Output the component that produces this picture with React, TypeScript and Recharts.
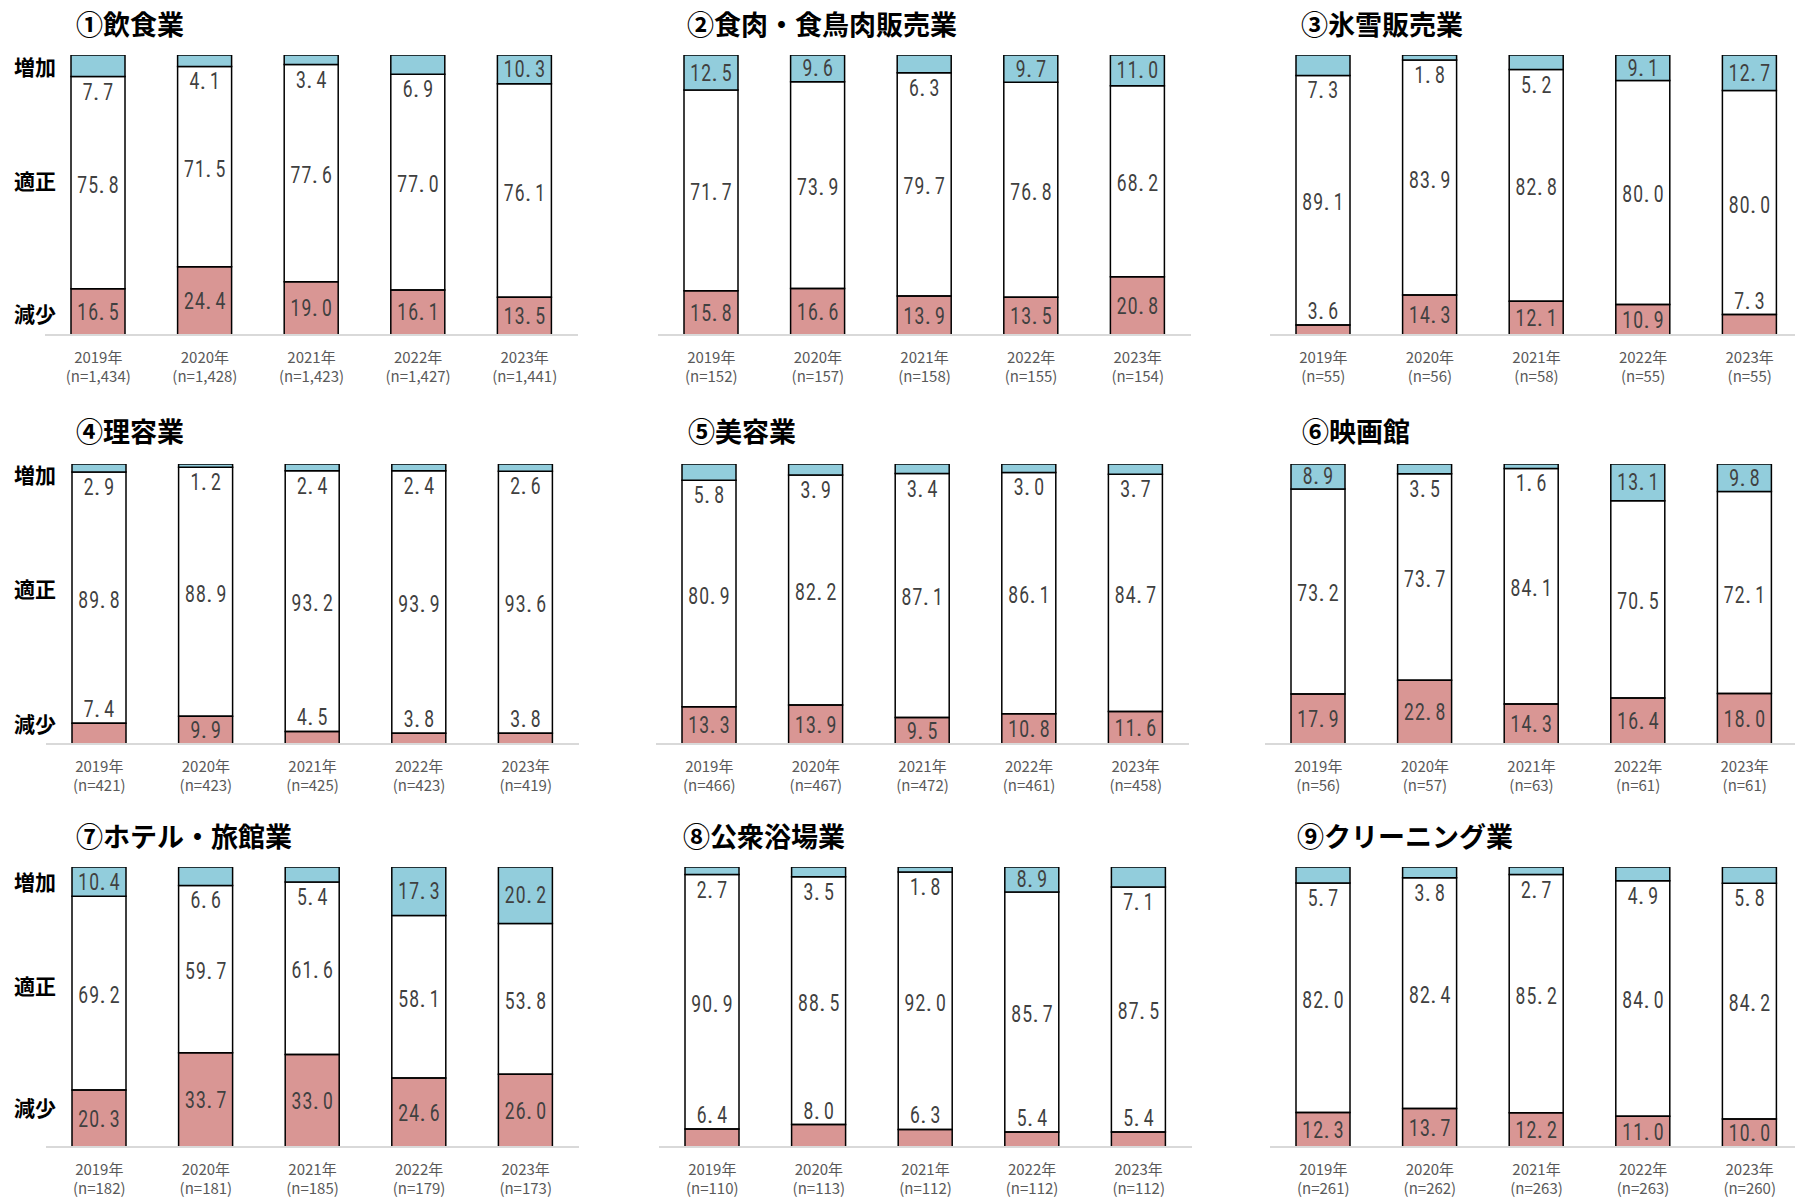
import React from "react";
import { BarChart, Bar, XAxis, YAxis, LabelList } from "recharts";

const YEARS = ["2019年", "2020年", "2021年", "2022年", "2023年"];

// ①飲食業
const foodN = [1434, 1428, 1423, 1427, 1441];
const foodUp = [7.7, 4.1, 3.4, 6.9, 10.3];
const foodOk = [75.8, 71.5, 77.6, 77.0, 76.1];
const foodDown = [16.5, 24.4, 19.0, 16.1, 13.5];

// ②食肉・食鳥肉販売業
const meatN = [152, 157, 158, 155, 154];
const meatUp = [12.5, 9.6, 6.3, 9.7, 11.0];
const meatOk = [71.7, 73.9, 79.7, 76.8, 68.2];
const meatDown = [15.8, 16.6, 13.9, 13.5, 20.8];

// ③氷雪販売業
const iceN = [55, 56, 58, 55, 55];
const iceUp = [7.3, 1.8, 5.2, 9.1, 12.7];
const iceOk = [89.1, 83.9, 82.8, 80.0, 80.0];
const iceDown = [3.6, 14.3, 12.1, 10.9, 7.3];

// ④理容業
const barberN = [421, 423, 425, 423, 419];
const barberUp = [2.9, 1.2, 2.4, 2.4, 2.6];
const barberOk = [89.8, 88.9, 93.2, 93.9, 93.6];
const barberDown = [7.4, 9.9, 4.5, 3.8, 3.8];

// ⑤美容業
const beautyN = [466, 467, 472, 461, 458];
const beautyUp = [5.8, 3.9, 3.4, 3.0, 3.7];
const beautyOk = [80.9, 82.2, 87.1, 86.1, 84.7];
const beautyDown = [13.3, 13.9, 9.5, 10.8, 11.6];

// ⑥映画館
const cinemaN = [56, 57, 63, 61, 61];
const cinemaUp = [8.9, 3.5, 1.6, 13.1, 9.8];
const cinemaOk = [73.2, 73.7, 84.1, 70.5, 72.1];
const cinemaDown = [17.9, 22.8, 14.3, 16.4, 18.0];

// ⑦ホテル・旅館業
const hotelN = [182, 181, 185, 179, 173];
const hotelUp = [10.4, 6.6, 5.4, 17.3, 20.2];
const hotelOk = [69.2, 59.7, 61.6, 58.1, 53.8];
const hotelDown = [20.3, 33.7, 33.0, 24.6, 26.0];

// ⑧公衆浴場業
const bathN = [110, 113, 112, 112, 112];
const bathUp = [2.7, 3.5, 1.8, 8.9, 7.1];
const bathOk = [90.9, 88.5, 92.0, 85.7, 87.5];
const bathDown = [6.4, 8.0, 6.3, 5.4, 5.4];

// ⑨クリーニング業
const cleanN = [261, 262, 263, 263, 260];
const cleanUp = [5.7, 3.8, 2.7, 4.9, 5.8];
const cleanOk = [82.0, 82.4, 85.2, 84.0, 84.2];
const cleanDown = [12.3, 13.7, 12.2, 11.0, 10.0];

const ROW_LABELS = ["増加", "適正", "減少"];

const BLUE = "#92CDDC";
const PINK = "#D99694";
const JP = '"Noto Sans CJK JP", "Noto Sans", sans-serif';
const NUM = 'Roboto, "Liberation Sans", sans-serif';

const PLOT_W = 533;
const PLOT_H = 280;

const panels = [
  { title: "①飲食業", n: foodN, up: foodUp, ok: foodOk, down: foodDown, left: 45, top: 55, tx: 76, ty: 23 },
  { title: "②食肉・食鳥肉販売業", n: meatN, up: meatUp, ok: meatOk, down: meatDown, left: 658, top: 55, tx: 687, ty: 23 },
  { title: "③氷雪販売業", n: iceN, up: iceUp, ok: iceOk, down: iceDown, left: 1270, top: 55, tx: 1301, ty: 23 },
  { title: "④理容業", n: barberN, up: barberUp, ok: barberOk, down: barberDown, left: 46, top: 464, tx: 76, ty: 430 },
  { title: "⑤美容業", n: beautyN, up: beautyUp, ok: beautyOk, down: beautyDown, left: 656, top: 464, tx: 688, ty: 430 },
  { title: "⑥映画館", n: cinemaN, up: cinemaUp, ok: cinemaOk, down: cinemaDown, left: 1265, top: 464, tx: 1302, ty: 430 },
  { title: "⑦ホテル・旅館業", n: hotelN, up: hotelUp, ok: hotelOk, down: hotelDown, left: 46, top: 867, tx: 76, ty: 835 },
  { title: "⑧公衆浴場業", n: bathN, up: bathUp, ok: bathOk, down: bathDown, left: 659, top: 867, tx: 683, ty: 835 },
  { title: "⑨クリーニング業", n: cleanN, up: cleanUp, ok: cleanOk, down: cleanDown, left: 1270, top: 867, tx: 1297, ty: 835 },
];

// y centres of 増加 / 適正 / 減少 for each row
const rowLabelY = [
  [66, 180, 313],
  [474, 588, 723],
  [881, 985, 1107],
];

// digits laid out on a fixed grid, the point sitting at the left of its cell
const DIGIT_CELL = 11;
const POINT_CELL = 9.5;

const NumText = ({ x, y, value }: { x: number; y: number; value: number }) => {
  const chars = value.toFixed(1).split("");
  const total = chars.reduce((acc, c) => acc + (c === "." ? POINT_CELL : DIGIT_CELL), 0);
  let cursor = x - total / 2;
  return (
    <g fontFamily={NUM} fontWeight={400} fontSize={24} fill="#404040">
      {chars.map((c, i) => {
        const isPoint = c === ".";
        const cx = isPoint ? cursor + 3 : cursor + DIGIT_CELL / 2;
        cursor += isPoint ? POINT_CELL : DIGIT_CELL;
        return isPoint ? (
          <text key={i} x={cx} y={y} textAnchor="middle" dominantBaseline="central">
            {c}
          </text>
        ) : (
          <text
            key={i}
            x={cx}
            y={y}
            textAnchor="middle"
            dominantBaseline="central"
            textLength={9.8}
            lengthAdjust="spacingAndGlyphs"
          >
            {c}
          </text>
        );
      })}
    </g>
  );
};

const rectOf = (props: any) => {
  const vb = props.viewBox && props.viewBox.width !== undefined ? props.viewBox : props;
  return { x: Number(vb.x), y: Number(vb.y), w: Number(vb.width), h: Number(vb.height) };
};

// small 増加 values sit just under the blue cap
const upLabel = (props: any) => {
  const { x, y, w, h } = rectOf(props);
  const v = Number(props.value);
  const cy = v >= 8.5 ? y + h / 2 : y + h + 15;
  return <NumText x={x + w / 2} y={cy} value={v} />;
};

const okLabel = (props: any) => {
  const { x, y, w, h } = rectOf(props);
  return <NumText x={x + w / 2} y={y + h / 2 + 2} value={Number(props.value)} />;
};

// small 減少 values sit just above the red block
const downLabel = (props: any) => {
  const { x, y, w, h } = rectOf(props);
  const v = Number(props.value);
  const cy = v >= 9 ? y + h / 2 : y - 14;
  return <NumText x={x + w / 2} y={cy} value={v} />;
};

const YearTick = (props: any) => {
  const { x, y, payload, index, counts } = props;
  return (
    <g fontFamily={JP} fontSize={15} fill="#595959">
      <text x={x} y={y + 21} textAnchor="middle" dominantBaseline="central">
        {payload.value}
      </text>
      <text x={x} y={y + 40} textAnchor="middle" dominantBaseline="central">
        {`(n=${counts[index].toLocaleString("en-US")})`}
      </text>
    </g>
  );
};

const Panel = ({ p }: { p: (typeof panels)[number] }) => {
  const data = YEARS.map((year, i) => ({ year, down: p.down[i], ok: p.ok[i], up: p.up[i] }));
  return (
    <>
      <div
        style={{
          position: "absolute",
          left: p.tx,
          top: p.ty,
          transform: "translateY(-50%)",
          fontFamily: JP,
          fontSize: 27,
          fontWeight: 700,
          whiteSpace: "nowrap",
          color: "#000",
          lineHeight: 1,
        }}
      >
        {p.title}
      </div>
      <div style={{ position: "absolute", left: p.left, top: p.top - 10 }}>
        <BarChart
          width={PLOT_W}
          height={PLOT_H + 10 + 55}
          data={data}
          stackOffset="expand"
          margin={{ top: 10, right: 0, bottom: 0, left: 0 }}
        >
          <XAxis
            dataKey="year"
            height={55}
            interval={0}
            tickLine={false}
            tickSize={0}
            tickMargin={0}
            axisLine={{ stroke: "#d9d9d9", strokeWidth: 2 }}
            tick={(t: any) => <YearTick {...t} counts={p.n} />}
          />
          <YAxis hide domain={[0, 1]} allowDataOverflow />
          <Bar dataKey="down" stackId="s" barSize={54} fill={PINK} stroke="#000" strokeWidth={1.5} isAnimationActive={false}>
            <LabelList dataKey="down" content={downLabel} />
          </Bar>
          <Bar dataKey="ok" stackId="s" barSize={54} fill="#fff" fillOpacity={0} stroke="#000" strokeWidth={1.5} isAnimationActive={false}>
            <LabelList dataKey="ok" content={okLabel} />
          </Bar>
          <Bar dataKey="up" stackId="s" barSize={54} fill={BLUE} stroke="#000" strokeWidth={1.5} isAnimationActive={false}>
            <LabelList dataKey="up" content={upLabel} />
          </Bar>
        </BarChart>
      </div>
    </>
  );
};

export default function App() {
  return (
    <div
      style={{
        position: "absolute",
        left: 0,
        top: 0,
        width: 1795,
        height: 1198,
        overflow: "hidden",
        background: "#fff",
      }}
    >
      {panels.map((p) => (
        <Panel key={p.title} p={p} />
      ))}
      {rowLabelY.map((ys, r) =>
        ys.map((y, k) => (
          <div
            key={`${r}-${k}`}
            style={{
              position: "absolute",
              left: 14,
              top: y,
              transform: "translateY(-50%)",
              fontFamily: JP,
              fontSize: 21,
              fontWeight: 700,
              lineHeight: 1,
              color: "#000",
            }}
          >
            {ROW_LABELS[k]}
          </div>
        ))
      )}
    </div>
  );
}
